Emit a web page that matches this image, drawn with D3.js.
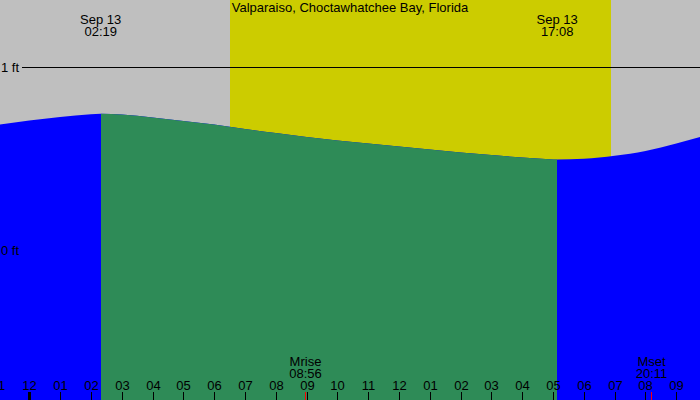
<!DOCTYPE html>
<html>
<head>
<meta charset="utf-8">
<script src="https://cdn.jsdelivr.net/npm/d3@7"></script>
<style>
  html, body { margin: 0; padding: 0; background: #fff; }
  svg { display: block; font-family: "Liberation Sans", Arial, sans-serif; }
</style>
</head>
<body>
<script>
// hours since midnight Sep 13 and tide height (ft)
const tideHours   = [-1, 0, 1, 2, 2.317, 3, 4, 5, 6, 7, 8, 9, 10, 11, 12, 13, 14, 15, 16, 17, 17.133, 18, 19, 20, 21, 22];
const tideHeights = [0.684, 0.708, 0.727, 0.742, 0.745, 0.740, 0.724, 0.705, 0.686, 0.661, 0.639, 0.617, 0.598, 0.582,
                     0.566, 0.549, 0.533, 0.519, 0.505, 0.495, 0.494, 0.498, 0.515, 0.541, 0.582, 0.628];

// high / low extremes
const extremeHours  = [2.317, 17.133];
const extremeDates  = ["Sep 13", "Sep 13"];
const extremeTimes  = ["02:19", "17:08"];

// daylight
const sunrise = 6.514;
const sunset = 18.88;

// moon events
const moonHours  = [8.933, 20.183];
const moonNames  = ["Mrise", "Mset"];
const moonTimes  = ["08:56", "20:11"];

// hour ticks
const tickHours  = d3.range(-1, 23);
const tickLabels = ["11", "12", "01", "02", "03", "04", "05", "06", "07", "08", "09", "10", "11",
                    "12", "01", "02", "03", "04", "05", "06", "07", "08", "09", "10"];

const yTicks = [0, 1];
const yLabels = ["0 ft", "1 ft"];

const title = "Valparaiso, Choctawhatchee Bay, Florida";

const width = 700, height = 400;
const fs = 13;

const x = d3.scaleLinear().domain([0, 21]).range([29.3, 676.3]);
const y = d3.scaleLinear().domain([0, 1]).range([250, 67]);

const svg = d3.select("body").append("svg")
  .attr("width", width)
  .attr("height", height);

// background
svg.append("rect")
  .attr("width", width).attr("height", height)
  .attr("fill", "#bfbfbf");

// daylight band
svg.append("rect")
  .attr("x", Math.round(x(sunrise)))
  .attr("y", 0)
  .attr("width", Math.round(x(sunset)) - Math.round(x(sunrise)))
  .attr("height", height)
  .attr("fill", "#cccc00");

// 1 ft line
svg.append("line")
  .attr("x1", 22).attr("x2", width)
  .attr("y1", y(1) + 0.5).attr("y2", y(1) + 0.5)
  .attr("stroke", "#000")
  .attr("stroke-width", 1);

const tide = tideHours.map((h, i) => ({h, v: tideHeights[i]}));

const area = d3.area()
  .x(d => x(d.h))
  .y0(height)
  .y1(d => y(d.v))
  .curve(d3.curveMonotoneX);

// clip for falling tide (green) between high and low
const defs = svg.append("defs");
defs.append("clipPath").attr("id", "falling")
  .append("rect")
  .attr("x", Math.round(x(extremeHours[0])))
  .attr("y", 0)
  .attr("width", Math.round(x(extremeHours[1])) - Math.round(x(extremeHours[0])))
  .attr("height", height);

svg.append("path")
  .datum(tide)
  .attr("d", area)
  .attr("fill", "#0000ff");

svg.append("path")
  .datum(tide)
  .attr("d", area)
  .attr("fill", "#2e8b57")
  .attr("clip-path", "url(#falling)");

// y labels
svg.append("g")
  .selectAll("text")
  .data(yTicks)
  .join("text")
  .attr("x", 1)
  .attr("y", d => y(d) + 5)
  .attr("font-size", fs)
  .attr("fill", "#000")
  .text((d, i) => yLabels[i]);

// title
svg.append("text")
  .attr("x", width / 2)
  .attr("y", 12)
  .attr("text-anchor", "middle")
  .attr("font-size", fs)
  .text(title);

// extreme labels
const ext = svg.append("g")
  .selectAll("g")
  .data(extremeHours)
  .join("g")
  .attr("transform", d => `translate(${x(d)},0)`);

ext.append("text")
  .attr("y", 24)
  .attr("text-anchor", "middle")
  .attr("font-size", fs)
  .text((d, i) => extremeDates[i]);

ext.append("text")
  .attr("y", 36)
  .attr("text-anchor", "middle")
  .attr("font-size", fs)
  .text((d, i) => extremeTimes[i]);

// hour ticks
const ticks = svg.append("g")
  .selectAll("g")
  .data(tickHours)
  .join("g")
  .attr("transform", d => `translate(${Math.round(x(d)) + 0.5},0)`);

ticks.append("line")
  .attr("y1", 392).attr("y2", height)
  .attr("stroke", "#000")
  .attr("stroke-width", d => d === 0 ? 3 : 1);

ticks.append("text")
  .attr("y", 390)
  .attr("text-anchor", "middle")
  .attr("font-size", fs)
  .text((d, i) => tickLabels[i]);

// moon events
const moon = svg.append("g")
  .selectAll("g")
  .data(moonHours)
  .join("g")
  .attr("transform", d => `translate(${Math.round(x(d)) + 0.5},0)`);

moon.append("line")
  .attr("y1", 392).attr("y2", height)
  .attr("stroke", "#ff0000")
  .attr("stroke-width", 1);

moon.append("text")
  .attr("y", 366)
  .attr("text-anchor", "middle")
  .attr("font-size", fs)
  .text((d, i) => moonNames[i]);

moon.append("text")
  .attr("y", 378)
  .attr("text-anchor", "middle")
  .attr("font-size", fs)
  .text((d, i) => moonTimes[i]);
</script>
</body>
</html>
